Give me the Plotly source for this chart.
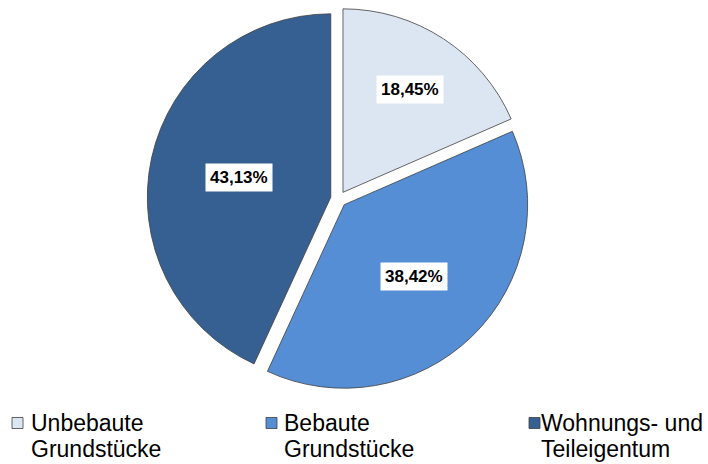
import math
import plotly.graph_objects as go

categories = ["Unbebaute<br>Grundstücke", "Bebaute<br>Grundstücke", "Wohnungs- und<br>Teileigentum"]
values = [18.45, 38.42, 43.13]
value_labels = ["18,45%", "38,42%", "43,13%"]
colors = ["#dce6f2", "#558ed5", "#376092"]

W, H = 708, 464
pull = 0.0436
dom_x = [0.2078, 0.7487]
dom_y = [0.1584, 0.9838]
FONT = "Liberation Sans, Arial"

fig = go.Figure(go.Pie(
    labels=categories,
    values=values,
    sort=False,
    direction="clockwise",
    rotation=0,
    pull=[pull] * len(values),
    marker=dict(colors=colors, line=dict(color="#404040", width=0.8)),
    textinfo="none",
    hoverinfo="label+value",
    domain=dict(x=dom_x, y=dom_y),
    showlegend=False,
))

# value label annotations placed near each slice's centroid (derived from data)
cx = (dom_x[0] + dom_x[1]) / 2 * W
cy = (dom_y[0] + dom_y[1]) / 2 * H
size = min((dom_x[1] - dom_x[0]) * W, (dom_y[1] - dom_y[0]) * H)
r = size / 2 / (1 + pull)
total = sum(values)
cum = 0
for v, t in zip(values, value_labels):
    half = v / total * math.pi
    mid = (cum + v / 2) / total * 2 * math.pi
    cum += v
    centroid = 2 * math.sin(half) / (3 * half)
    d = r * (pull + 1.06 * centroid)
    px = cx + d * math.sin(mid)
    py = cy + d * math.cos(mid)
    fig.add_annotation(
        x=px / W, y=py / H, xref="paper", yref="paper",
        xanchor="center", yanchor="middle",
        text="<b>" + t + "</b>", showarrow=False,
        font=dict(family=FONT, size=17, color="black"),
        bgcolor="white", borderpad=4,
    )

# legend (drawn manually so that it fits in one row like the original)
sym_x0 = [12, 266, 529]     # px, left edge of each legend symbol
text_x0 = [31, 284, 541]    # px, left edge of each legend text
sym = 11
line1_y = 423               # px from top, centre of first text line
line_gap = 26
for i, (cat, col) in enumerate(zip(categories, colors)):
    x0 = sym_x0[i]
    fig.add_shape(
        type="rect", xref="paper", yref="paper",
        x0=x0 / W, x1=(x0 + sym) / W,
        y0=1 - (line1_y - sym / 2) / H, y1=1 - (line1_y + sym / 2) / H,
        fillcolor=col, line=dict(color="#404040", width=0.8),
    )
    for j, part in enumerate(cat.split("<br>")):
        fig.add_annotation(
            x=text_x0[i] / W, y=1 - (line1_y + j * line_gap) / H,
            xref="paper", yref="paper", xanchor="left", yanchor="middle",
            text=part, showarrow=False, borderpad=0, borderwidth=0,
            font=dict(family=FONT, size=23, color="black"),
        )

fig.update_layout(
    width=W, height=H,
    margin=dict(l=0, r=0, t=0, b=0),
    paper_bgcolor="white",
    plot_bgcolor="white",
    font=dict(family=FONT, color="black"),
    showlegend=False,
)

fig.write_html(
    "out.html",
    config={"displayModeBar": False},
    post_script="document.body.style.margin='0';document.body.style.overflow='hidden';",
)
